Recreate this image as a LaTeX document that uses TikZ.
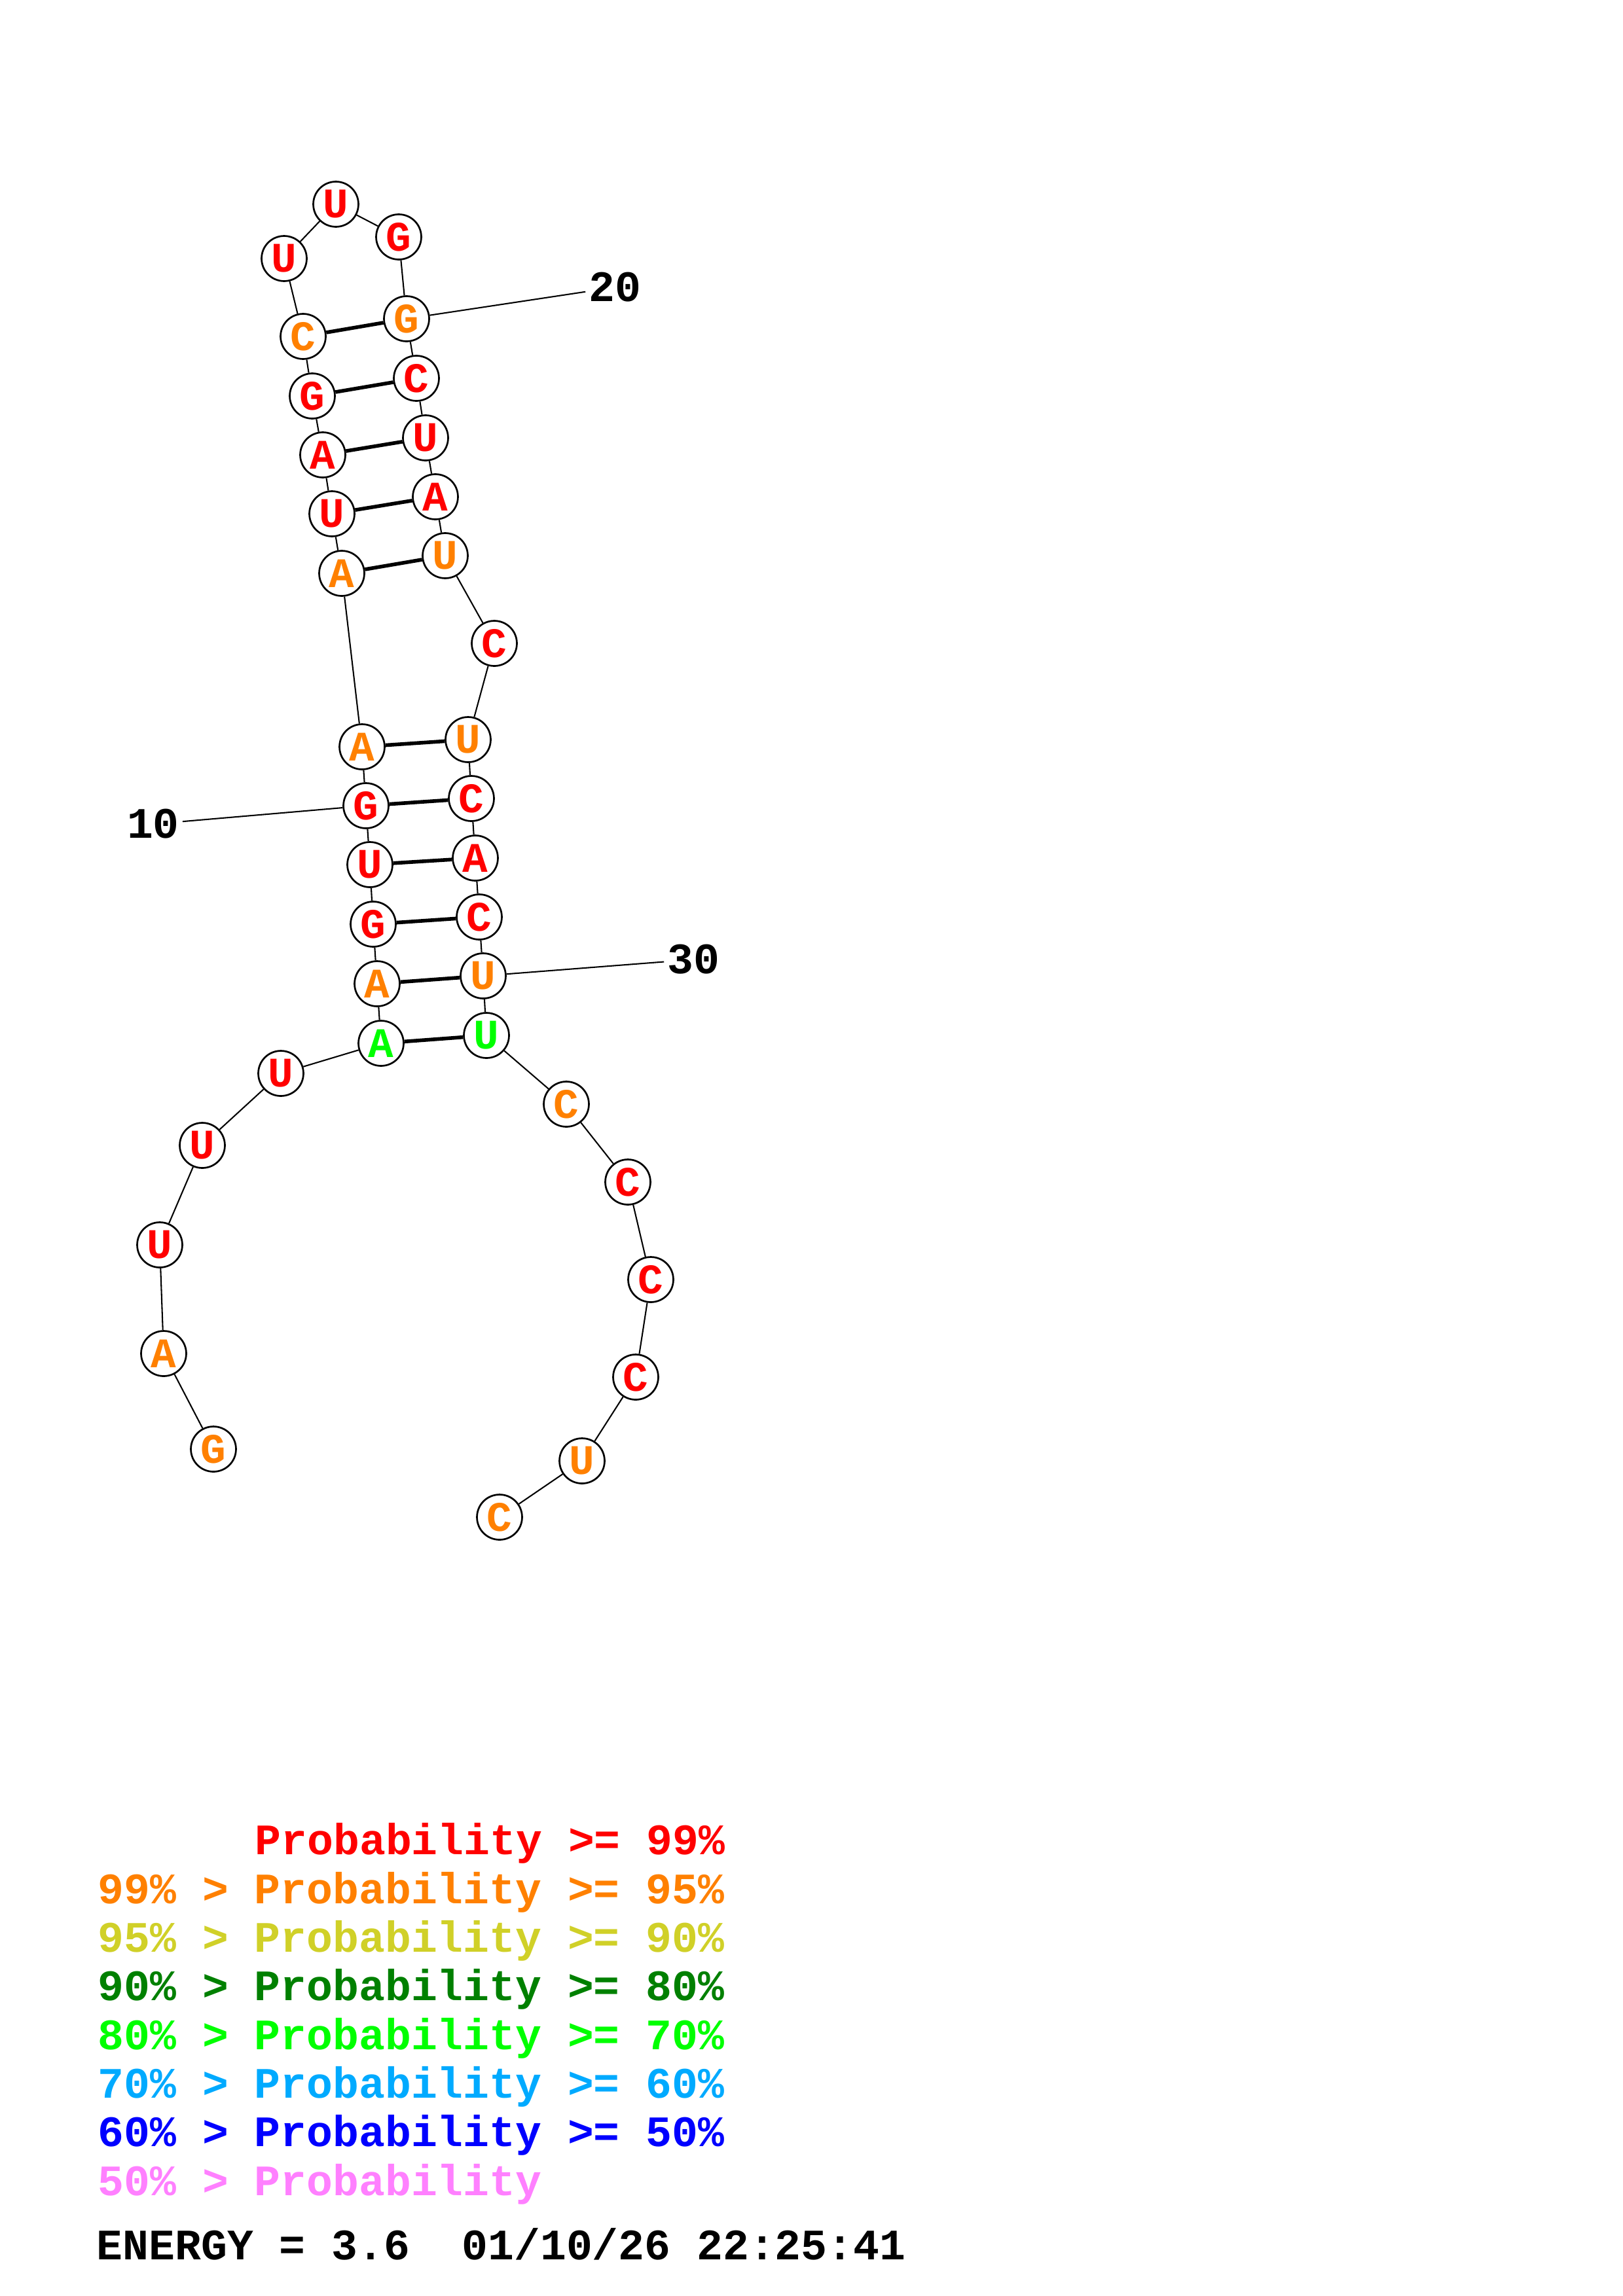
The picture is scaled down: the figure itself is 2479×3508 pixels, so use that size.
\documentclass[tikz,border=0pt]{standalone}
\usepackage{fontspec}
\setmonofont{Liberation Mono}
\usepackage{xcolor}
\usepackage{tikz}

\definecolor{pr99}{RGB}{255,0,0}
\definecolor{pr95}{RGB}{255,128,0}
\definecolor{pr90}{RGB}{208,208,40}
\definecolor{pr80}{RGB}{0,128,0}
\definecolor{pr70}{RGB}{0,255,0}
\definecolor{pr60}{RGB}{0,170,255}
\definecolor{pr50}{RGB}{0,0,255}
\definecolor{prlow}{RGB}{255,128,255}

\begin{document}
\begin{tikzpicture}[
  x=0.084667mm, y=-0.084667mm,
  nuc/.style={circle, draw, line width=0.65pt, fill=white, minimum size=5.84mm,
              inner sep=0pt, font=\ttfamily\bfseries\fontsize{15.5pt}{15.5pt}\selectfont},
  bbone/.style={line width=0.5pt},
  bond/.style={line width=1.35pt},
  numtext/.style={inner sep=1pt, font=\ttfamily\bfseries\fontsize{16pt}{16pt}\selectfont},
  legtext/.style={anchor=base west, inner sep=0pt,
                  font=\ttfamily\bfseries\fontsize{16pt}{16pt}\selectfont},
]
  \useasboundingbox (0,0) rectangle (2479,3508);

  % Nucleotides
  \node[nuc, text=pr95] (nt1)  at (326,2214) {G};
  \node[nuc, text=pr95] (nt2)  at (250,2068) {A};
  \node[nuc, text=pr99] (nt3)  at (244,1902) {U};
  \node[nuc, text=pr99] (nt4)  at (309,1750) {U};
  \node[nuc, text=pr99] (nt5)  at (429,1640) {U};
  \node[nuc, text=pr70] (nt6)  at (582,1594) {A};
  \node[nuc, text=pr95] (nt7)  at (576,1503) {A};
  \node[nuc, text=pr99] (nt8)  at (570,1412) {G};
  \node[nuc, text=pr99] (nt9)  at (565,1321) {U};
  \node[nuc, text=pr99] (nt10) at (559,1231) {G};
  \node[nuc, text=pr95] (nt11) at (553,1141) {A};
  \node[nuc, text=pr95] (nt12) at (522,876)  {A};
  \node[nuc, text=pr99] (nt13) at (507,785)  {U};
  \node[nuc, text=pr99] (nt14) at (493,695)  {A};
  \node[nuc, text=pr99] (nt15) at (477,605)  {G};
  \node[nuc, text=pr95] (nt16) at (463,514)  {C};
  \node[nuc, text=pr99] (nt17) at (434,395)  {U};
  \node[nuc, text=pr99] (nt18) at (513,312)  {U};
  \node[nuc, text=pr99] (nt19) at (609,362)  {G};
  \node[nuc, text=pr95] (nt20) at (621,487)  {G};
  \node[nuc, text=pr99] (nt21) at (636,578)  {C};
  \node[nuc, text=pr99] (nt22) at (650,669)  {U};
  \node[nuc, text=pr99] (nt23) at (665,759)  {A};
  \node[nuc, text=pr95] (nt24) at (680,849)  {U};
  \node[nuc, text=pr99] (nt25) at (755,983)  {C};
  \node[nuc, text=pr95] (nt26) at (715,1130) {U};
  \node[nuc, text=pr99] (nt27) at (720,1220) {C};
  \node[nuc, text=pr99] (nt28) at (726,1311) {A};
  \node[nuc, text=pr99] (nt29) at (732,1401) {C};
  \node[nuc, text=pr95] (nt30) at (738,1491) {U};
  \node[nuc, text=pr70] (nt31) at (743,1582) {U};
  \node[nuc, text=pr95] (nt32) at (865,1687) {C};
  \node[nuc, text=pr99] (nt33) at (959,1806) {C};
  \node[nuc, text=pr99] (nt34) at (994,1955) {C};
  \node[nuc, text=pr99] (nt35) at (971,2104) {C};
  \node[nuc, text=pr95] (nt36) at (889,2232) {U};
  \node[nuc, text=pr95] (nt37) at (763,2318) {C};

  % Backbone
  \draw[bbone] (nt1) -- (nt2)   (nt2) -- (nt3)   (nt3) -- (nt4)   (nt4) -- (nt5);
  \draw[bbone] (nt5) -- (nt6)   (nt6) -- (nt7)   (nt7) -- (nt8)   (nt8) -- (nt9);
  \draw[bbone] (nt9) -- (nt10)  (nt10) -- (nt11) (nt11) -- (nt12) (nt12) -- (nt13);
  \draw[bbone] (nt13) -- (nt14) (nt14) -- (nt15) (nt15) -- (nt16) (nt16) -- (nt17);
  \draw[bbone] (nt17) -- (nt18) (nt18) -- (nt19) (nt19) -- (nt20) (nt20) -- (nt21);
  \draw[bbone] (nt21) -- (nt22) (nt22) -- (nt23) (nt23) -- (nt24) (nt24) -- (nt25);
  \draw[bbone] (nt25) -- (nt26) (nt26) -- (nt27) (nt27) -- (nt28) (nt28) -- (nt29);
  \draw[bbone] (nt29) -- (nt30) (nt30) -- (nt31) (nt31) -- (nt32) (nt32) -- (nt33);
  \draw[bbone] (nt33) -- (nt34) (nt34) -- (nt35) (nt35) -- (nt36) (nt36) -- (nt37);

  % Base pairs
  \draw[bond] (nt6) -- (nt31);
  \draw[bond] (nt7) -- (nt30);
  \draw[bond] (nt8) -- (nt29);
  \draw[bond] (nt9) -- (nt28);
  \draw[bond] (nt10) -- (nt27);
  \draw[bond] (nt11) -- (nt26);
  \draw[bond] (nt12) -- (nt24);
  \draw[bond] (nt13) -- (nt23);
  \draw[bond] (nt14) -- (nt22);
  \draw[bond] (nt15) -- (nt21);
  \draw[bond] (nt16) -- (nt20);

  % Numbering
  \node[numtext] (lab10) at (234,1259) {10};
  \node[numtext] (lab20) at (939,439)  {20};
  \node[numtext] (lab30) at (1059,1466) {30};
  \draw[bbone] (nt10) -- (lab10);
  \draw[bbone] (nt20) -- (lab20);
  \draw[bbone] (nt30) -- (lab30);

  % Legend
  \node[legtext, text=pr99]  (leg1) at (389,2833) {Probability >= 99\%};
  \node[legtext, text=pr95]  (leg2) at (149,2908) {99\% > Probability >= 95\%};
  \node[legtext, text=pr90]  (leg3) at (149,2982) {95\% > Probability >= 90\%};
  \node[legtext, text=pr80]  (leg4) at (149,3056) {90\% > Probability >= 80\%};
  \node[legtext, text=pr70]  (leg5) at (149,3131) {80\% > Probability >= 70\%};
  \node[legtext, text=pr60]  (leg6) at (149,3205) {70\% > Probability >= 60\%};
  \node[legtext, text=pr50]  (leg7) at (149,3279) {60\% > Probability >= 50\%};
  \node[legtext, text=prlow] (leg8) at (149,3354) {50\% > Probability};
  \node[legtext] (energy) at (147,3452) {ENERGY = 3.6\ \ 01/10/26 22:25:41};
\end{tikzpicture}
\end{document}
